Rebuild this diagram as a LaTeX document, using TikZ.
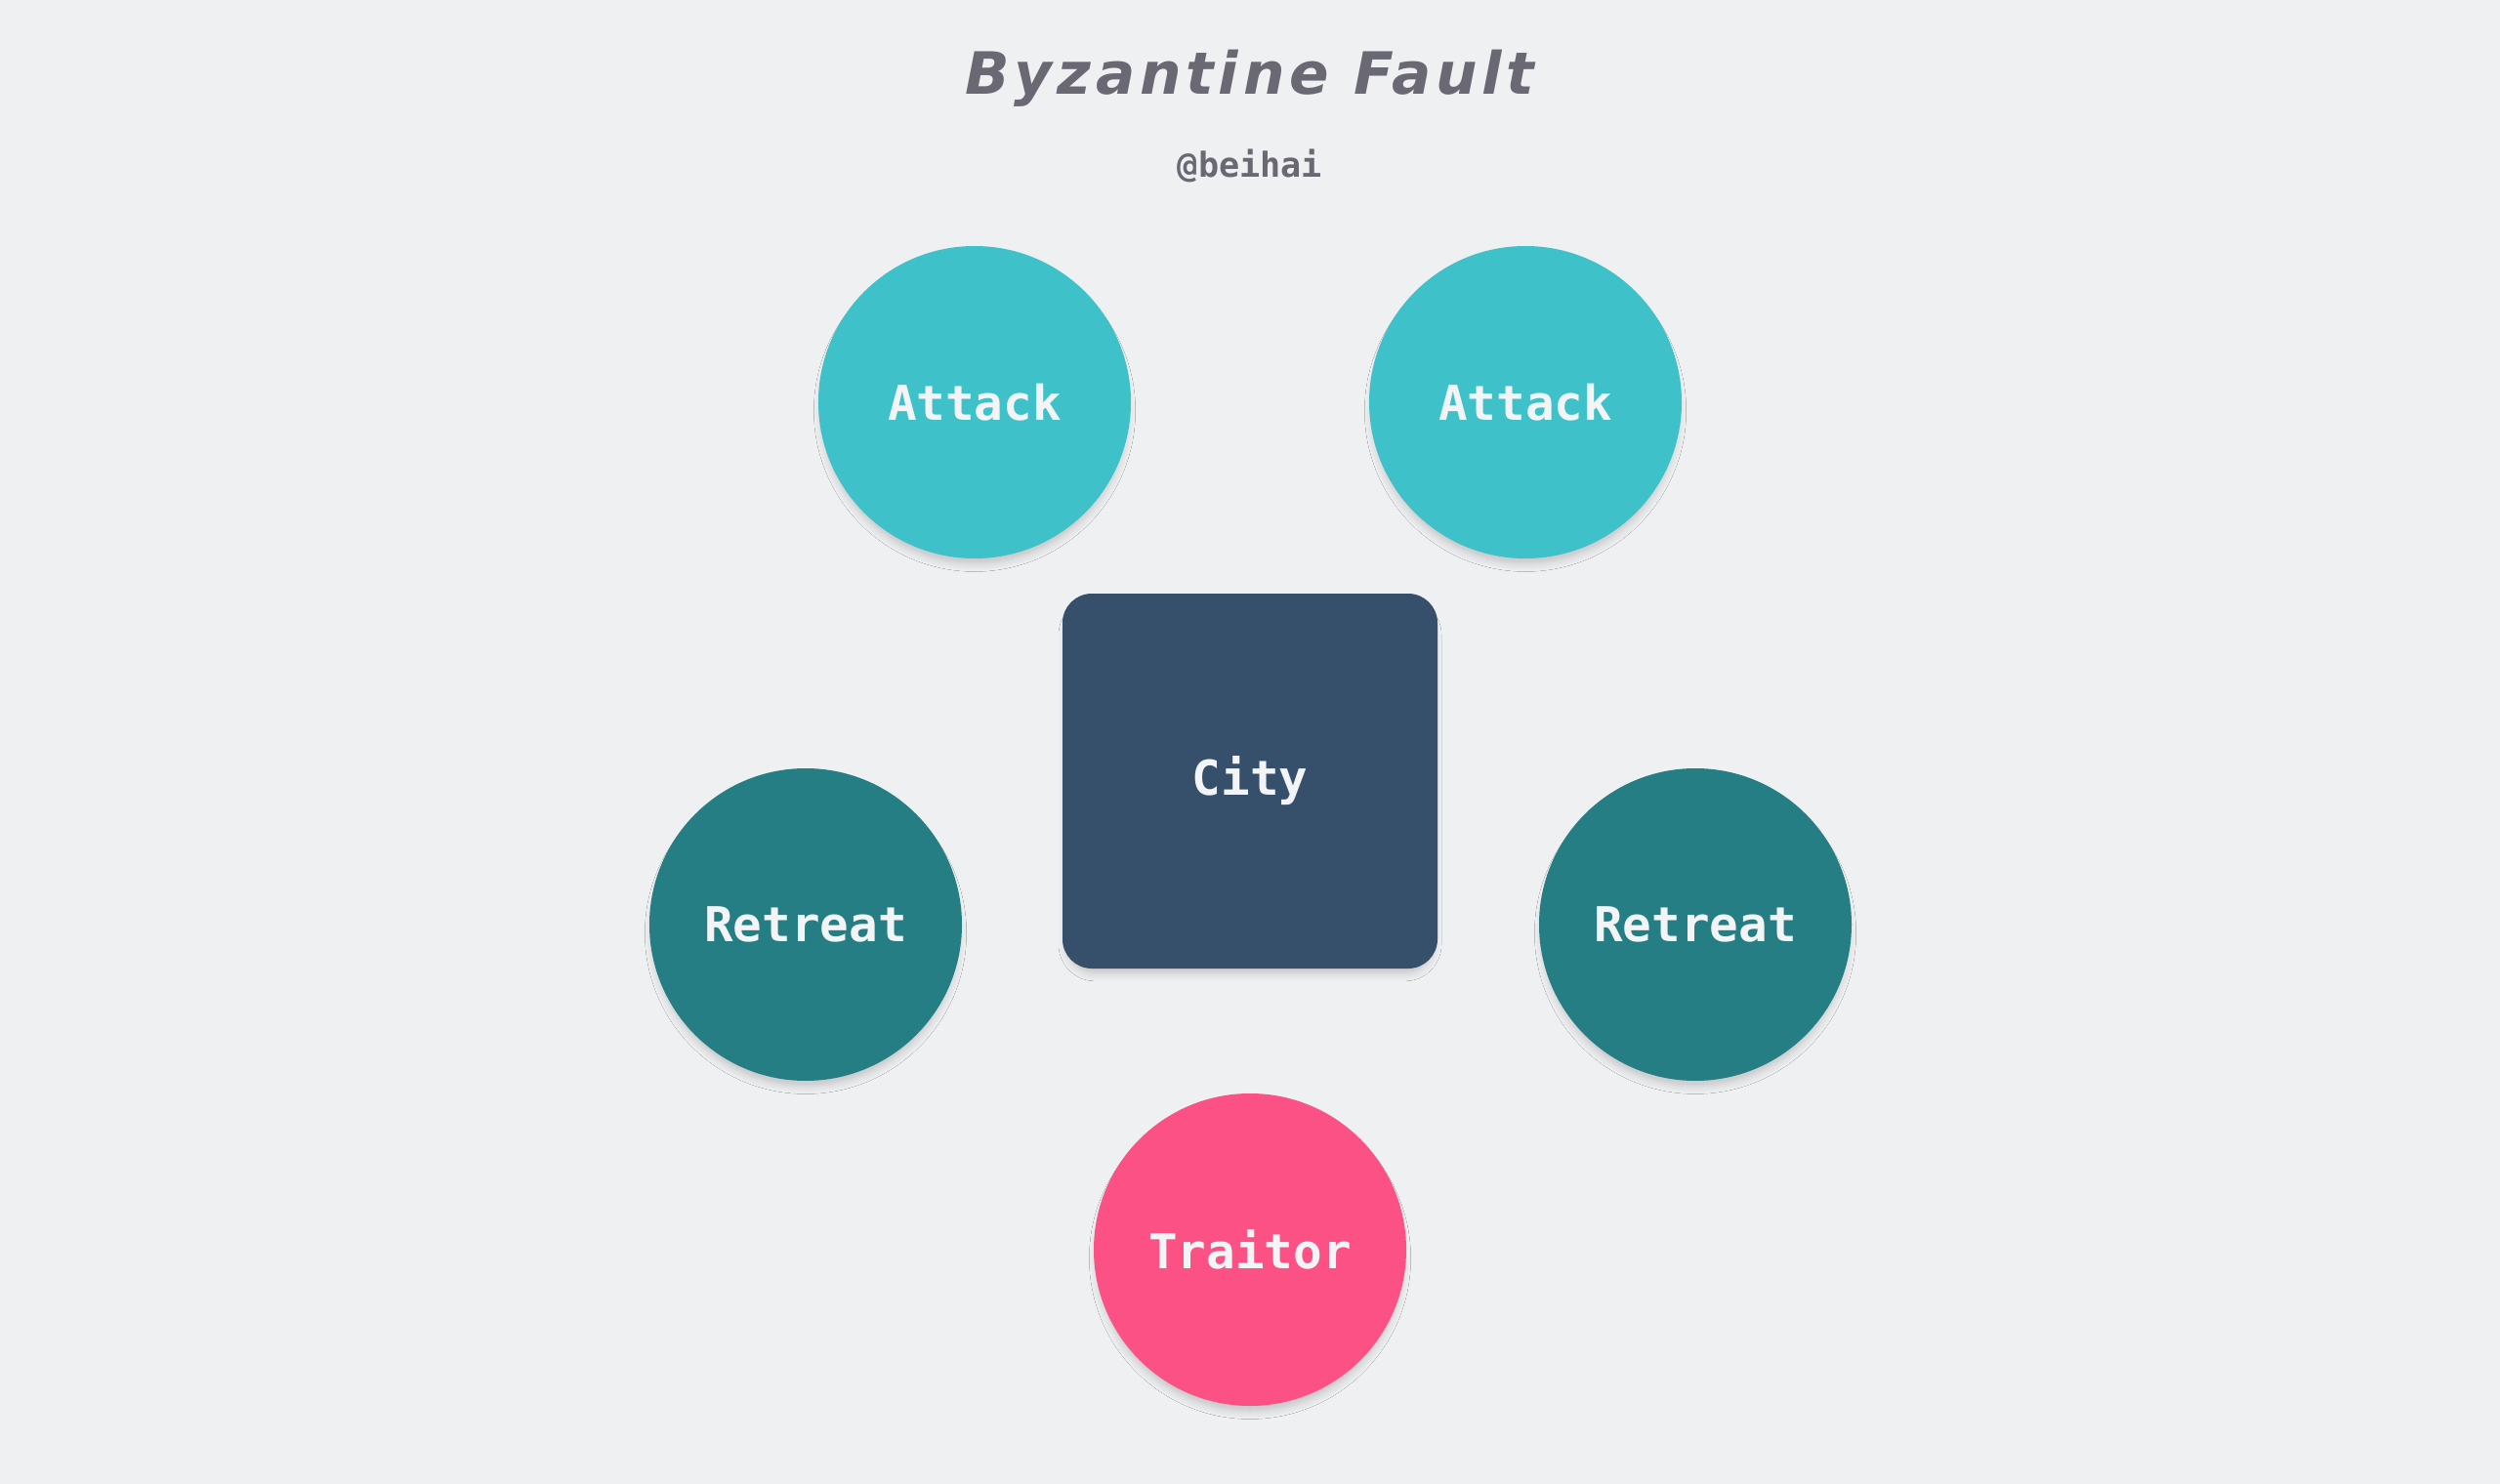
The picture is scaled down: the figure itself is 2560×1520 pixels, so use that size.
\documentclass[tikz,border=0pt]{standalone}
\usepackage{fontspec}
\setmainfont{DejaVu Sans}
\newfontfamily\titlefont[LetterSpace=8]{DejaVu Sans}
\newfontfamily\monofont{DejaVu Sans Mono}
\usetikzlibrary{shadows.blur}

\definecolor{bgcol}{HTML}{EFF0F2}
\definecolor{attackcol}{HTML}{3FC1C9}
\definecolor{retreatcol}{HTML}{247E84}
\definecolor{citycol}{HTML}{364F6B}
\definecolor{traitorcol}{HTML}{FC5185}
\definecolor{labelcol}{HTML}{F3F4F6}
\definecolor{titlecol}{HTML}{6A6873}

\begin{document}
\begin{tikzpicture}[x=0.1mm,y=-0.1mm,
    general/.style={circle,minimum size=32mm,inner sep=0pt,text=labelcol,
      font=\monofont\bfseries\fontsize{14}{16}\selectfont,
      blur shadow={shadow xshift=0mm,shadow yshift=-0.9mm,shadow scale=0.98,shadow blur radius=0.8mm,shadow opacity=18}},
    attack/.style={general,fill=attackcol},
    retreat/.style={general,fill=retreatcol},
    traitor/.style={general,fill=traitorcol},
    city/.style={general,rectangle,rounded corners=3mm,minimum size=38.4mm,fill=citycol}]
  \fill[bgcol] (0,0) rectangle (2560,1520);
  \node[text=titlecol,font=\titlefont\bfseries\itshape\fontsize{17}{20}\selectfont] (title) at (1280,80) {Byzantine Fault};
  \node[text=titlecol,font=\monofont\bfseries\fontsize{10}{12}\selectfont] (author) at (1280,170) {@beihai};
  \node[city] (city) at (1280,800) {City};
  \node[attack] (atkL) at (998,412) {Attack};
  \node[attack] (atkR) at (1562,412) {Attack};
  \node[retreat] (retL) at (825,947) {Retreat};
  \node[retreat] (retR) at (1736,947) {Retreat};
  \node[traitor] (traitor) at (1280,1280) {Traitor};
\end{tikzpicture}
\end{document}
